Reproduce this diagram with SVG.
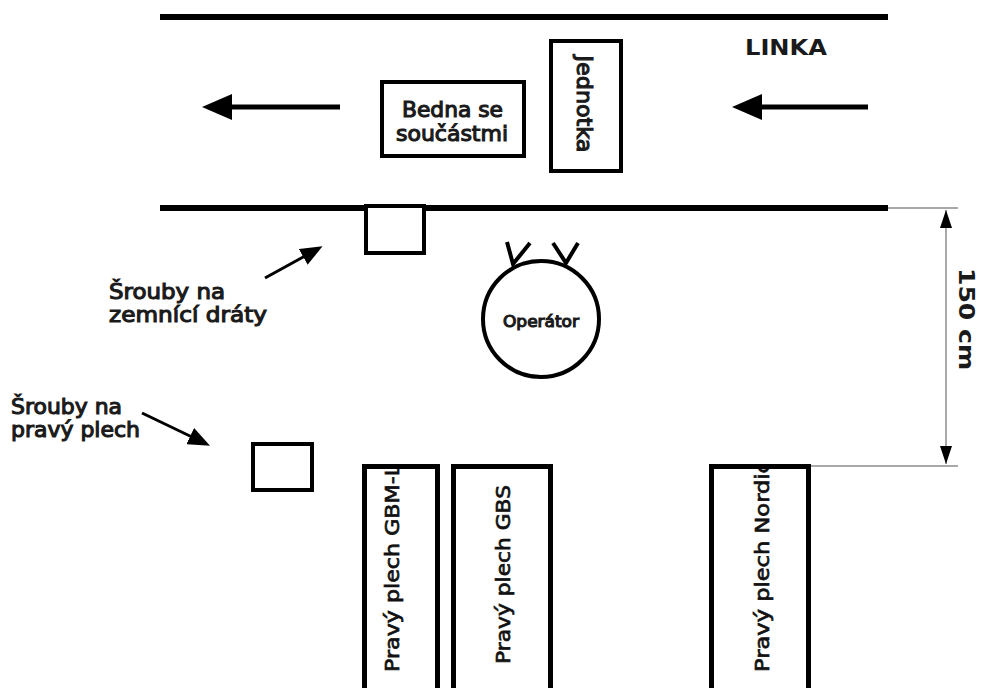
<svg xmlns="http://www.w3.org/2000/svg" width="981" height="688" viewBox="0 0 981 688">
  <style>
    .rail { stroke: #000; stroke-width: 6; fill: none; }
    .box { fill: #fff; stroke: #000; stroke-width: 4; }
    .bin { fill: none; stroke: #000; stroke-width: 5; }
    .flow { stroke: #000; stroke-width: 5; fill: none; }
    .ptr { stroke: #000; stroke-width: 3; fill: none; }
    .dim { stroke: #8c8c8c; stroke-width: 1.5; fill: none; }
    .lbl { font-family: "DejaVu Sans", Verdana, sans-serif; fill: #1a1a1a; stroke: #1a1a1a; stroke-width: 1.1; }
    .hvy { font-family: "DejaVu Sans", Verdana, sans-serif; font-weight: bold; fill: #1a1a1a; }
    .bin-lbl { font-family: "DejaVu Sans", Verdana, sans-serif; font-size: 20px; fill: #111; stroke: #111; stroke-width: 0.7; }
  </style>
  <defs>
    <marker id="flowHead" markerUnits="userSpaceOnUse" viewBox="0 -13 30 26" refX="2" refY="0" markerWidth="30" markerHeight="26" orient="auto">
      <path d="M0,-13 L30,0 L0,13 z" fill="#000"/>
    </marker>
    <marker id="ptrHead" markerUnits="userSpaceOnUse" viewBox="0 -9 22 18" refX="2" refY="0" markerWidth="22" markerHeight="18" orient="auto">
      <path d="M0,-9 L22,0 L0,9 z" fill="#000"/>
    </marker>
    <marker id="dimHead" markerUnits="userSpaceOnUse" viewBox="0 -6 18 12" refX="18" refY="0" markerWidth="18" markerHeight="12" orient="auto-start-reverse">
      <path d="M0,-6 L18,0 L0,6 z" fill="#000"/>
    </marker>
    <clipPath id="clipGbml"><rect x="360" y="468" width="82" height="230"/></clipPath>
    <clipPath id="clipGbs"><rect x="449" y="468" width="106" height="230"/></clipPath>
    <clipPath id="clipNordic"><rect x="707" y="468" width="106" height="230"/></clipPath>
  </defs>

  <rect width="981" height="688" fill="#fff"/>

  <!-- production line rails -->
  <g id="line">
    <line class="rail" x1="160" y1="17" x2="888" y2="17"/>
    <line class="rail" x1="160" y1="208" x2="888" y2="208"/>
    <text class="hvy" x="745" y="55" font-size="22" textLength="82" lengthAdjust="spacingAndGlyphs">LINKA</text>
  </g>

  <g id="bedna">
    <rect class="box" x="382" y="82" width="142" height="74"/>
    <text class="lbl" x="402" y="117" font-size="21" textLength="101" lengthAdjust="spacingAndGlyphs">Bedna se</text>
    <text class="lbl" x="396" y="141" font-size="21" textLength="112" lengthAdjust="spacingAndGlyphs">součástmi</text>
  </g>

  <g id="jednotka">
    <rect class="box" x="551" y="41" width="70" height="130"/>
    <text class="lbl" transform="translate(577,104) rotate(90)" x="0" y="0" font-size="21" text-anchor="middle" textLength="97" lengthAdjust="spacingAndGlyphs">Jednotka</text>
  </g>

  <g id="srouby-zemnici">
    <rect class="box" x="366" y="206" width="58" height="47"/>
  </g>

  <g id="srouby-plech">
    <rect class="box" x="253" y="444" width="59" height="46"/>
  </g>

  <g id="operator">
    <circle cx="541" cy="319" r="58" fill="#fff" stroke="#000" stroke-width="4"/>
    <polyline points="507,242 513,264 530,243" fill="none" stroke="#000" stroke-width="4"/>
    <polyline points="553,243 566,263 578,243" fill="none" stroke="#000" stroke-width="4"/>
    <text class="lbl" x="541" y="327" font-size="16" stroke-width="0.7" text-anchor="middle" textLength="76" lengthAdjust="spacingAndGlyphs">Operátor</text>
  </g>

  <g id="plech-gbml">
    <g clip-path="url(#clipGbml)">
      <text class="bin-lbl" transform="translate(399,672) rotate(-90)" x="0" y="0" textLength="208" lengthAdjust="spacingAndGlyphs">Pravý plech GBM-L</text>
    </g>
    <path class="bin" d="M364.5,700 V466.5 H437.5 V700"/>
  </g>

  <g id="plech-gbs">
    <g clip-path="url(#clipGbs)">
      <text class="bin-lbl" transform="translate(510,664) rotate(-90)" x="0" y="0" textLength="179" lengthAdjust="spacingAndGlyphs">Pravý plech GBS</text>
    </g>
    <path class="bin" d="M453.5,700 V466.5 H550.5 V700"/>
  </g>

  <g id="plech-nordic">
    <g clip-path="url(#clipNordic)">
      <text class="bin-lbl" transform="translate(769,672) rotate(-90)" x="0" y="0" textLength="211" lengthAdjust="spacingAndGlyphs">Pravý plech Nordic</text>
    </g>
    <path class="bin" d="M711.5,700 V466.5 H808.5 V700"/>
  </g>

  <!-- free labels -->
  <g id="label-zemnici">
    <text class="lbl" x="109" y="299" font-size="21" textLength="116" lengthAdjust="spacingAndGlyphs">Šrouby na</text>
    <text class="lbl" x="109" y="322" font-size="21" textLength="158" lengthAdjust="spacingAndGlyphs">zemnící dráty</text>
  </g>
  <g id="label-plech">
    <text class="lbl" x="11" y="414" font-size="21" textLength="111" lengthAdjust="spacingAndGlyphs">Šrouby na</text>
    <text class="lbl" x="11" y="437" font-size="21" textLength="129" lengthAdjust="spacingAndGlyphs">pravý plech</text>
  </g>
  <g id="label-dim">
    <text class="hvy" transform="translate(959,319) rotate(90)" x="0" y="0" font-size="21" text-anchor="middle" textLength="102" lengthAdjust="spacingAndGlyphs">150 cm</text>
  </g>

  <!-- connectors: flow direction, pointers, dimension -->
  <g id="connectors">
    <line class="flow" x1="340" y1="107" x2="230" y2="107" marker-end="url(#flowHead)"/>
    <line class="flow" x1="868" y1="107" x2="760" y2="107" marker-end="url(#flowHead)"/>
    <line class="ptr" x1="265" y1="278" x2="305" y2="256" marker-end="url(#ptrHead)"/>
    <line class="ptr" x1="142" y1="413" x2="192" y2="437" marker-end="url(#ptrHead)"/>
    <line class="dim" x1="888" y1="208" x2="958" y2="208"/>
    <line class="dim" x1="811" y1="466" x2="958" y2="466"/>
    <line class="dim" x1="946" y1="210" x2="946" y2="464" marker-start="url(#dimHead)" marker-end="url(#dimHead)"/>
  </g>
</svg>
